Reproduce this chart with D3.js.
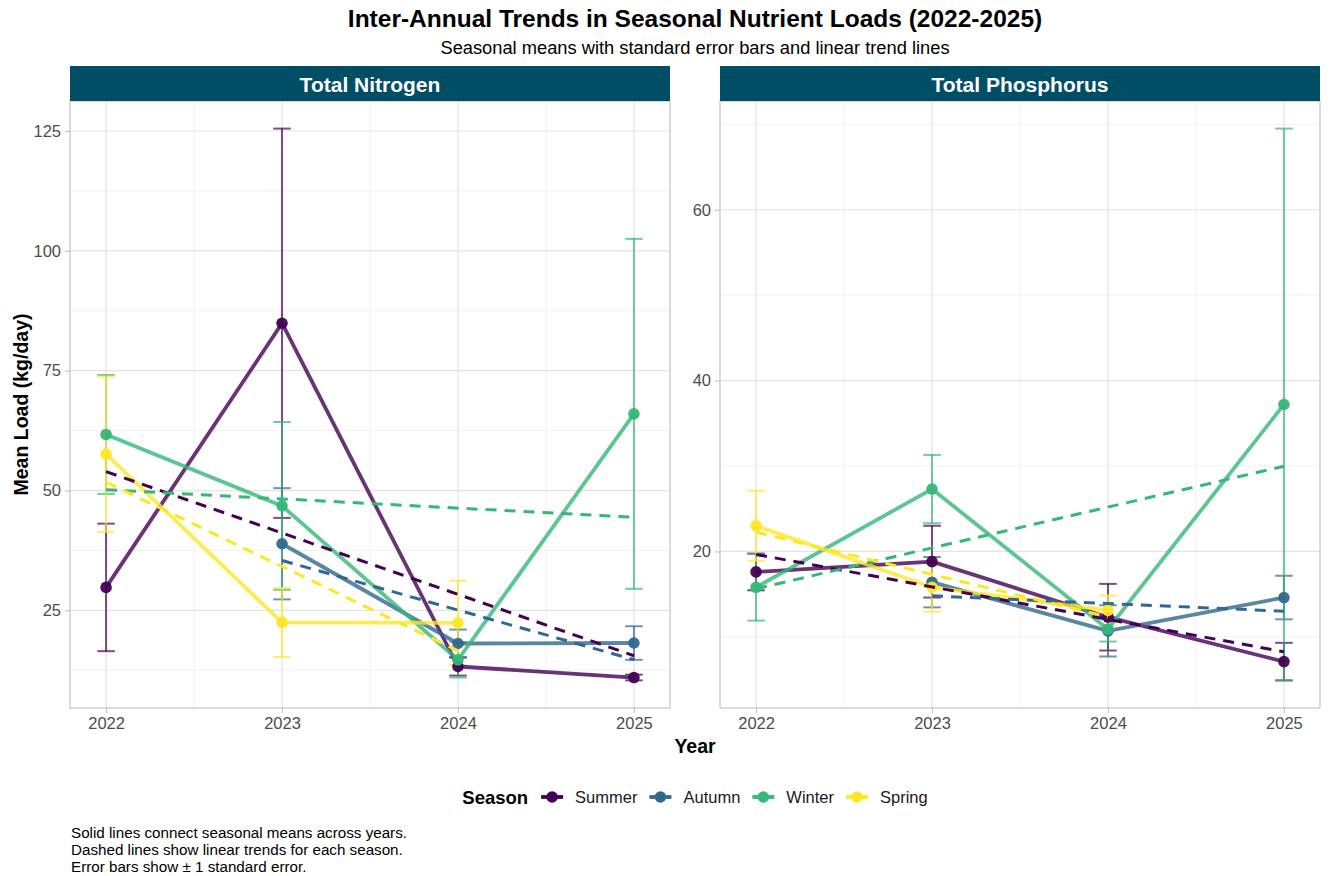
<!DOCTYPE html>
<html>
<head>
<meta charset="utf-8">
<script src="https://cdn.jsdelivr.net/npm/d3@7"></script>
<style>
  html, body { margin: 0; padding: 0; background: #ffffff; }
  svg { display: block; font-family: "Liberation Sans", Arial, sans-serif; }
</style>
</head>
<body>
<svg id="chart" width="1330" height="876"></svg>
<script>
// ---- Data -------------------------------------------------------------
const years = [2022, 2023, 2024, 2025];
const seasons = ["Summer", "Autumn", "Winter", "Spring"];
const seasonColors = ["#440154", "#31688E", "#35B779", "#FDE725"];

const nitrogenTicks = [25, 50, 75, 100, 125];
const phosphorusTicks = [20, 40, 60];
const yearTicks = [2022, 2023, 2024, 2025];

// Total Nitrogen: seasonal means (kg/day) and standard errors
const tnSummerMean = [29.8, 84.9, 13.3, 11.0];
const tnSummerSE   = [13.3, 40.6, 1.9, 0.6];
const tnAutumnMean = [null, 38.9, 18.1, 18.2];
const tnAutumnSE   = [null, 11.6, 2.9, 3.5];
const tnWinterMean = [61.7, 46.8, 14.7, 66.0];
const tnWinterSE   = [12.4, 17.5, 3.7, 36.5];
const tnSpringMean = [57.6, 22.5, 22.4, null];
const tnSpringSE   = [16.2, 7.2, 8.8, null];

// Total Phosphorus: seasonal means (kg/day) and standard errors
const tpSummerMean = [17.6, 18.8, 12.3, 7.1];
const tpSummerSE   = [2.15, 4.2, 3.9, 2.2];
const tpAutumnMean = [null, 16.4, 10.7, 14.6];
const tpAutumnSE   = [null, 2.95, 3.0, 2.55];
const tpWinterMean = [15.8, 27.3, 10.9, 37.2];
const tpWinterSE   = [3.9, 4.0, 1.45, 32.3];
const tpSpringMean = [23.0, 15.8, 13.1, null];
const tpSpringSE   = [4.1, 2.85, 1.75, null];

const captionLines = [
  "Solid lines connect seasonal means across years.",
  "Dashed lines show linear trends for each season.",
  "Error bars show \u00B1 1 standard error."
];

// ---- Layout -----------------------------------------------------------
const svg = d3.select("#chart");
const plotTop = 101, plotBottom = 708;
const stripTop = 66;
const panelDefs = [
  { title: "Total Nitrogen", x0: 70, x1: 670, ticks: nitrogenTicks,
    means: [tnSummerMean, tnAutumnMean, tnWinterMean, tnSpringMean],
    ses: [tnSummerSE, tnAutumnSE, tnWinterSE, tnSpringSE] },
  { title: "Total Phosphorus", x0: 720, x1: 1320, ticks: phosphorusTicks,
    means: [tpSummerMean, tpAutumnMean, tpWinterMean, tpSpringMean],
    ses: [tpSummerSE, tpAutumnSE, tpWinterSE, tpSpringSE] }
];

const errWidth = 0.1;   // error bar cap width in years
const gridMajor = "#e3e3e3", gridMinor = "#f1f1f1";

function buildSeries(panel) {
  return seasons.map((s, i) => ({
    season: s,
    color: seasonColors[i],
    pts: years.map((yr, j) => ({ year: yr, mean: panel.means[i][j], se: panel.ses[i][j] }))
              .filter(p => p.mean !== null)
  }));
}

// ordinary least-squares line over the available years
function linearFit(pts) {
  const mx = d3.mean(pts, p => p.year), my = d3.mean(pts, p => p.mean);
  const sxy = d3.sum(pts, p => (p.year - mx) * (p.mean - my));
  const sxx = d3.sum(pts, p => (p.year - mx) * (p.year - mx));
  const b = sxy / sxx, a = my - b * mx;
  const xs = d3.extent(pts, p => p.year);
  return xs.map(x => ({ year: x, value: a + b * x }));
}

panelDefs.forEach(panel => {
  const series = buildSeries(panel);
  const allPts = series.flatMap(s => s.pts);

  // x domain: years plus cap half-width, then 5% expansion
  const xlo = d3.min(years) - errWidth / 2, xhi = d3.max(years) + errWidth / 2;
  const xpad = (xhi - xlo) * 0.05;
  const x = d3.scaleLinear().domain([xlo - xpad, xhi + xpad]).range([panel.x0, panel.x1]);

  const ylo = d3.min(allPts, p => p.mean - p.se), yhi = d3.max(allPts, p => p.mean + p.se);
  const ypad = (yhi - ylo) * 0.05;
  const y = d3.scaleLinear().domain([ylo - ypad, yhi + ypad]).range([plotBottom, plotTop]);

  const g = svg.append("g");

  // minor grid
  const ystep = panel.ticks[1] - panel.ticks[0];
  const yMinor = [panel.ticks[0] - ystep / 2, ...panel.ticks.map(t => t + ystep / 2)]
    .filter(v => v > y.domain()[0] && v < y.domain()[1]);
  const xMinor = [years[0] - 0.5, ...years.map(t => t + 0.5)]
    .filter(v => v > x.domain()[0] && v < x.domain()[1]);

  g.selectAll(".ymin").data(yMinor).enter().append("line")
    .attr("x1", panel.x0).attr("x2", panel.x1)
    .attr("y1", d => y(d)).attr("y2", d => y(d))
    .attr("stroke", gridMinor).attr("stroke-width", 1);
  g.selectAll(".xmin").data(xMinor).enter().append("line")
    .attr("y1", plotTop).attr("y2", plotBottom)
    .attr("x1", d => x(d)).attr("x2", d => x(d))
    .attr("stroke", gridMinor).attr("stroke-width", 1);
  g.selectAll(".ymaj").data(panel.ticks).enter().append("line")
    .attr("x1", panel.x0).attr("x2", panel.x1)
    .attr("y1", d => y(d)).attr("y2", d => y(d))
    .attr("stroke", gridMajor).attr("stroke-width", 1.2);
  g.selectAll(".xmaj").data(yearTicks).enter().append("line")
    .attr("y1", plotTop).attr("y2", plotBottom)
    .attr("x1", d => x(d)).attr("x2", d => x(d))
    .attr("stroke", gridMajor).attr("stroke-width", 1.2);

  // panel border
  g.append("rect")
    .attr("x", panel.x0).attr("y", plotTop)
    .attr("width", panel.x1 - panel.x0).attr("height", plotBottom - plotTop)
    .attr("fill", "none").attr("stroke", "#c4c4c4").attr("stroke-width", 1.2);

  // strip
  g.append("rect")
    .attr("x", panel.x0).attr("y", stripTop)
    .attr("width", panel.x1 - panel.x0).attr("height", plotTop - stripTop)
    .attr("fill", "#004d66");
  g.append("text")
    .attr("x", (panel.x0 + panel.x1) / 2).attr("y", 92)
    .attr("text-anchor", "middle").attr("fill", "#ffffff")
    .attr("font-size", 21).attr("font-weight", "bold")
    .text(panel.title);

  // axes
  const yAxis = d3.axisLeft(y).tickValues(panel.ticks).tickSize(5).tickPadding(4);
  const ya = g.append("g").attr("transform", `translate(${panel.x0},0)`).call(yAxis);
  ya.select(".domain").remove();
  ya.selectAll(".tick line").attr("stroke", "#c4c4c4").attr("stroke-width", 1.2);
  ya.selectAll(".tick text").attr("fill", "#4d4d4d").attr("font-size", 16.5)
    .attr("font-family", "Liberation Sans, Arial, sans-serif");

  const xAxis = d3.axisBottom(x).tickValues(yearTicks).tickFormat(d3.format("d")).tickSize(5).tickPadding(4);
  const xa = g.append("g").attr("transform", `translate(0,${plotBottom})`).call(xAxis);
  xa.select(".domain").remove();
  xa.selectAll(".tick line").attr("stroke", "#c4c4c4").attr("stroke-width", 1.2);
  xa.selectAll(".tick text").attr("fill", "#4d4d4d").attr("font-size", 16.5)
    .attr("font-family", "Liberation Sans, Arial, sans-serif");

  const capHalf = (x(errWidth) - x(0)) / 2;

  // error bars
  series.forEach(s => {
    const eg = g.append("g").attr("stroke", s.color).attr("stroke-opacity", 0.7)
      .attr("stroke-width", 2).attr("fill", "none");
    s.pts.forEach(p => {
      const cx = x(p.year), yt = y(p.mean + p.se), yb = y(p.mean - p.se);
      eg.append("line").attr("x1", cx).attr("x2", cx).attr("y1", yt).attr("y2", yb);
      eg.append("line").attr("x1", cx - capHalf).attr("x2", cx + capHalf).attr("y1", yt).attr("y2", yt);
      eg.append("line").attr("x1", cx - capHalf).attr("x2", cx + capHalf).attr("y1", yb).attr("y2", yb);
    });
  });

  // solid lines through the means
  const line = d3.line().x(p => x(p.year)).y(p => y(p.mean));
  series.forEach(s => {
    g.append("path").datum(s.pts).attr("d", line)
      .attr("fill", "none").attr("stroke", s.color).attr("stroke-opacity", 0.8)
      .attr("stroke-width", 3.8).attr("stroke-linejoin", "round");
  });

  // points
  series.forEach(s => {
    g.selectAll(null).data(s.pts).enter().append("circle")
      .attr("cx", p => x(p.year)).attr("cy", p => y(p.mean)).attr("r", 5.8)
      .attr("fill", s.color).attr("fill-opacity", 0.95);
  });

  // dashed least-squares trend lines
  const tline = d3.line().x(p => x(p.year)).y(p => y(p.value));
  series.forEach(s => {
    g.append("path").datum(linearFit(s.pts)).attr("d", tline)
      .attr("fill", "none").attr("stroke", s.color)
      .attr("stroke-width", 3).attr("stroke-dasharray", "11,8");
  });
});

// ---- Titles ------------------------------------------------------------
const centerX = (70 + 1320) / 2;
svg.append("text").attr("x", centerX).attr("y", 27).attr("text-anchor", "middle")
  .attr("font-size", 24.5).attr("font-weight", "bold").attr("fill", "#000")
  .text("Inter-Annual Trends in Seasonal Nutrient Loads (2022-2025)");
svg.append("text").attr("x", centerX).attr("y", 54).attr("text-anchor", "middle")
  .attr("font-size", 18.3).attr("fill", "#000")
  .text("Seasonal means with standard error bars and linear trend lines");

svg.append("text").attr("x", centerX).attr("y", 753).attr("text-anchor", "middle")
  .attr("font-size", 19.5).attr("font-weight", "bold").attr("fill", "#000")
  .text("Year");
svg.append("text")
  .attr("transform", `translate(28,${(plotTop + plotBottom) / 2}) rotate(-90)`)
  .attr("text-anchor", "middle")
  .attr("font-size", 19.5).attr("font-weight", "bold").attr("fill", "#000")
  .text("Mean Load (kg/day)");

// ---- Legend ------------------------------------------------------------
const legend = svg.append("g");
const legY = 797;
const legTitle = legend.append("text").attr("y", legY + 6.5)
  .attr("font-size", 18.5).attr("font-weight", "bold").attr("fill", "#000").text("Season");
const items = seasons.map((s, i) => {
  const t = legend.append("text").attr("y", legY + 6).attr("font-size", 16.5)
    .attr("fill", "#1a1a1a").text(s);
  return { t, color: seasonColors[i], w: t.node().getComputedTextLength() };
});
const titleW = legTitle.node().getComputedTextLength();
const keyW = 22, gapTitle = 13, gapKey = 12, gapItem = 12;
const totalW = titleW + gapTitle + d3.sum(items, it => keyW + gapKey + it.w) + gapItem * (items.length - 1);
let cx = centerX - totalW / 2;
legTitle.attr("x", cx);
cx += titleW + gapTitle;
items.forEach(it => {
  legend.append("line").attr("x1", cx).attr("x2", cx + keyW).attr("y1", legY).attr("y2", legY)
    .attr("stroke", it.color).attr("stroke-width", 3.8);
  legend.append("circle").attr("cx", cx + keyW / 2).attr("cy", legY).attr("r", 5.8).attr("fill", it.color);
  cx += keyW + gapKey;
  it.t.attr("x", cx);
  cx += it.w + gapItem;
});

// ---- Caption -----------------------------------------------------------
svg.append("g").selectAll("text").data(captionLines).enter().append("text")
  .attr("x", 71).attr("y", (d, i) => 838 + i * 17.2)
  .attr("font-size", 15.2).attr("fill", "#000")
  .text(d => d);
</script>
</body>
</html>
